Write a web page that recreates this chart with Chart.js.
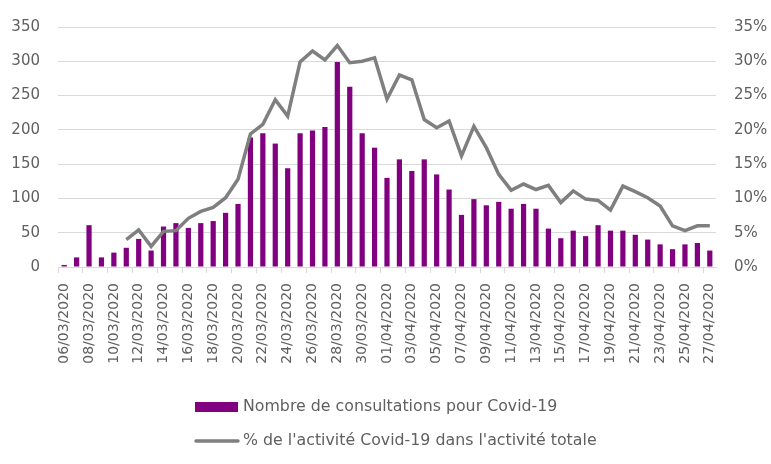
<!DOCTYPE html>
<html>
<head>
<meta charset="utf-8">
<script src="https://cdn.jsdelivr.net/npm/chart.js@4"></script>
<style>
  html, body { margin: 0; padding: 0; background: #ffffff; }
  #wrap { width: 771px; height: 464px; }
</style>
</head>
<body>
<div id="wrap"><canvas id="chart" width="771" height="464"></canvas></div>
<script>
// dates 06/03/2020 .. 27/04/2020
const days = [
  '06/03/2020','07/03/2020','08/03/2020','09/03/2020','10/03/2020','11/03/2020','12/03/2020',
  '13/03/2020','14/03/2020','15/03/2020','16/03/2020','17/03/2020','18/03/2020','19/03/2020',
  '20/03/2020','21/03/2020','22/03/2020','23/03/2020','24/03/2020','25/03/2020','26/03/2020',
  '27/03/2020','28/03/2020','29/03/2020','30/03/2020','31/03/2020','01/04/2020','02/04/2020',
  '03/04/2020','04/04/2020','05/04/2020','06/04/2020','07/04/2020','08/04/2020','09/04/2020',
  '10/04/2020','11/04/2020','12/04/2020','13/04/2020','14/04/2020','15/04/2020','16/04/2020',
  '17/04/2020','18/04/2020','19/04/2020','20/04/2020','21/04/2020','22/04/2020','23/04/2020',
  '24/04/2020','25/04/2020','26/04/2020','27/04/2020'
];

// Nombre de consultations pour Covid-19
const consultations = [
  3, 14, 61, 14, 21, 28, 41, 24, 59, 64, 57, 64, 67, 79,
  92, 189, 195, 180, 144, 195, 199, 204, 299, 263, 195, 174, 130, 157,
  140, 157, 135, 113, 76, 99, 90, 95, 85, 92, 85, 56, 42, 53,
  45, 61, 53, 53, 47, 40, 33, 26, 33, 35, 24
];

// % de l'activité Covid-19 dans l'activité totale
const pctActivite = [
  null, null, null, null, null, 4.0, 5.4, 3.0, 5.2, 5.3, 7.1, 8.1, 8.7, 10.1,
  12.8, 19.4, 20.8, 24.4, 22.0, 29.9, 31.5, 30.2, 32.3, 29.8, 30.0, 30.5, 24.5, 28.0,
  27.3, 21.5, 20.3, 21.3, 16.2, 20.5, 17.4, 13.5, 11.2, 12.1, 11.3, 11.9, 9.4, 11.1,
  9.9, 9.7, 8.3, 11.8, 11.0, 10.1, 8.9, 6.0, 5.3, 6.0, 6.0
];

const barLabel = 'Nombre de consultations pour Covid-19';
const lineLabel = "% de l'activité Covid-19 dans l'activité totale";

const txtColor = '#606060';
const fontFam = '"DejaVu Sans", sans-serif';

// legend in two rows under the axis
const legendRows = {
  id: 'legendRows',
  afterDraw(chart) {
    const ctx = chart.ctx;
    ctx.save();
    ctx.font = '15.8px ' + fontFam;
    ctx.textBaseline = 'middle';
    ctx.textAlign = 'left';
    // bar swatch
    ctx.fillStyle = '#800080';
    ctx.fillRect(195, 402, 43, 10);
    ctx.fillStyle = txtColor;
    ctx.fillText(barLabel, 243, 407);
    // line swatch
    ctx.strokeStyle = '#7f7f7f';
    ctx.lineWidth = 3.5;
    ctx.lineCap = 'round';
    ctx.beginPath();
    ctx.moveTo(196, 441);
    ctx.lineTo(238, 441);
    ctx.stroke();
    ctx.fillText(lineLabel, 243, 441);
    ctx.restore();
  }
};

const data = {
  labels: days,
  datasets: [{
    type: 'line',
    label: lineLabel,
    data: pctActivite,
    yAxisID: 'y1',
    borderColor: '#7f7f7f',
    borderWidth: 3.5,
    pointRadius: 0,
    tension: 0,
    spanGaps: false,
    order: 0
  }, {
    type: 'bar',
    label: barLabel,
    data: consultations,
    yAxisID: 'y',
    backgroundColor: '#800080',
    barPercentage: 0.42,
    categoryPercentage: 1,
    order: 1
  }]
};

const options = {
  responsive: false,
  animation: false,
  layout: { padding: { top: 17, bottom: 82 } },
  plugins: {
    legend: { display: false },
    tooltip: { enabled: false }
  },
  scales: {
    x: {
      offset: true,
      border: { display: true, color: '#d9d9d9' },
      grid: {
        offset: true,
        drawOnChartArea: false,
        tickLength: 6,
        color: (c) => (c.index % 2 === 0 ? '#d9d9d9' : 'rgba(0,0,0,0)')
      },
      ticks: {
        autoSkip: false,
        minRotation: 90,
        maxRotation: 90,
        padding: 10,
        color: txtColor,
        font: { family: fontFam, size: 14 },
        callback: function(v, i) { return i % 2 === 0 ? this.getLabelForValue(v) : ''; }
      },
      afterFit: (s) => { s.height = 115; }
    },
    y: {
      position: 'left',
      min: 0, max: 350,
      border: { display: false },
      grid: { color: '#d9d9d9', lineWidth: 1, drawTicks: false },
      ticks: { stepSize: 50, color: txtColor, padding: 18, font: { family: fontFam, size: 15 } },
      afterFit: (s) => { s.width = 58; }
    },
    y1: {
      position: 'right',
      min: 0, max: 35,
      border: { display: false },
      grid: { drawOnChartArea: false, drawTicks: false },
      ticks: {
        stepSize: 5, color: txtColor, padding: 18,
        font: { family: fontFam, size: 15 },
        callback: (v) => v + '%'
      },
      afterFit: (s) => { s.width = 55; }
    }
  }
};

window.addEventListener('load', () => {
  const ctx = document.getElementById('chart').getContext('2d');
  new Chart(ctx, { data: data, options: options, plugins: [legendRows] });
});
</script>
</body>
</html>
